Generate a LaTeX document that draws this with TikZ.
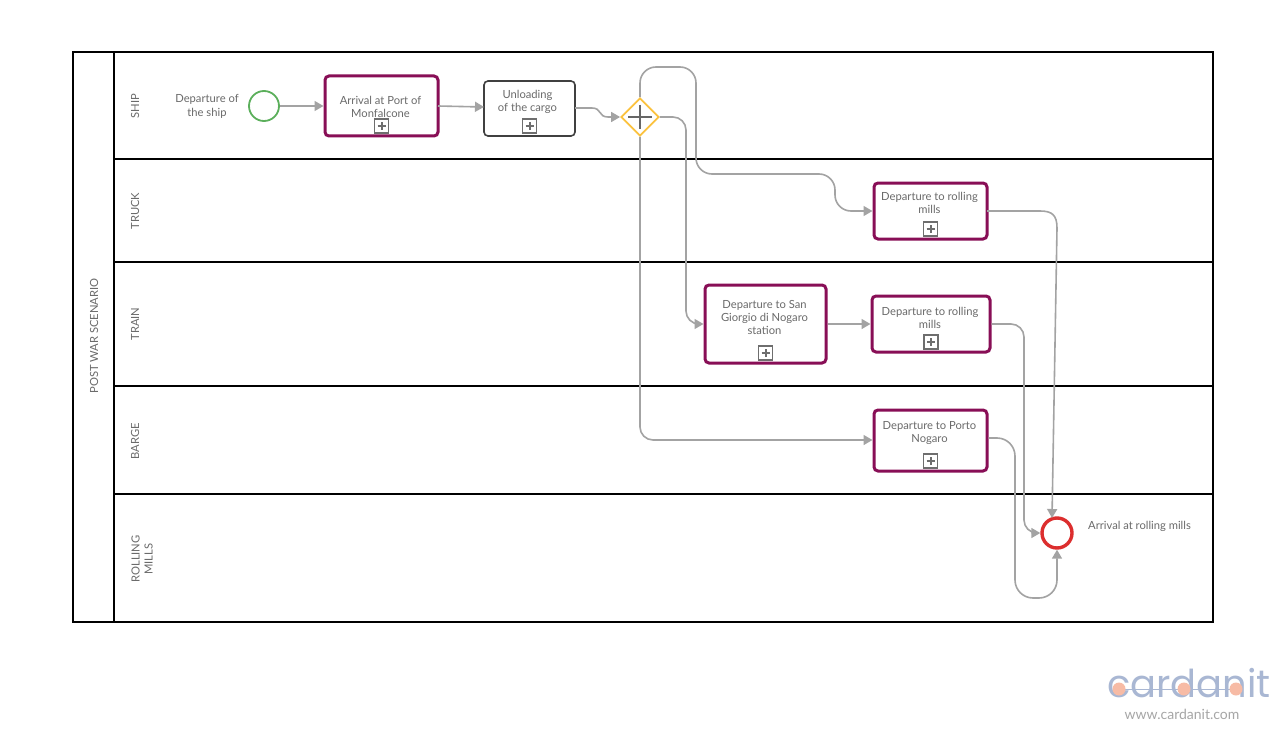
\documentclass[tikz,border=0pt]{standalone}
\usepackage{fontspec}
\setmainfont{Lato}
\newfontfamily\logofont{Poppins}
\usetikzlibrary{arrows.meta,shapes.geometric}
\definecolor{txt}{HTML}{6A6A6A}
\definecolor{flowc}{HTML}{A3A3A3}
\definecolor{purp}{HTML}{880E56}
\definecolor{logob}{HTML}{A9B7D3}
\definecolor{logoo}{HTML}{F7BBA5}
\definecolor{startc}{HTML}{5BAF5B}
\definecolor{endc}{HTML}{DC2E2E}
\definecolor{gwc}{HTML}{FBC23E}
\definecolor{markc}{HTML}{6E6E6E}
\tikzset{
 x=1pt,y=-1pt,
 lane/.style={draw=black,line width=1.6pt},
 flow/.style={draw=flowc,line width=1.6pt,rounded corners=13pt,-{Triangle[length=9pt,width=10pt]}},
 label/.style={font=\fontsize{11.2}{13}\selectfont,text=txt,align=center,inner sep=0pt},
 vlabel/.style={label,rotate=90},
 task/.style={draw=purp,line width=3pt,rounded corners=4pt,inner sep=0pt,fill=white,label},
 plain/.style={draw=black!75,line width=1.6pt,rounded corners=4pt,inner sep=0pt,fill=white,label},
 plusbox/.style={draw=markc,line width=1.8pt,minimum size=14pt,inner sep=0pt,fill=white},
 plusmark/.style={draw=markc,line width=2pt},
}
\newcommand{\taskbox}[9]{% name, style, x1,y1,x2,y2, text, texty, textx offset
 \node[#2,minimum width={#5-#3},minimum height={#6-#4}] (#1) at ({(#3+#5)/2},{(#4+#6)/2}) {};
 \node[label] (#1t) at ({(#3+#5)/2+#9},#8) {#7};
 \node[plusbox] (#1p) at ({(#3+#5)/2},{#6-10}) {};
 \draw[plusmark] ([xshift=-4pt]#1p.center) -- ([xshift=4pt]#1p.center);
 \draw[plusmark] ([yshift=-4pt]#1p.center) -- ([yshift=4pt]#1p.center);
}
\begin{document}
\begin{tikzpicture}
\useasboundingbox[fill=white] (0,0) rectangle (1285,733);
% pool
\node[draw=black,line width=1.8pt,minimum width=1140pt,minimum height=570pt,inner sep=0pt] (pool) at (643,337) {};
\draw[lane] (114,52) -- (114,622);
\coordinate (l1) at (114,159); \coordinate (r1) at (1213,159);
\coordinate (l2) at (114,262); \coordinate (r2) at (1213,262);
\coordinate (l3) at (114,386); \coordinate (r3) at (1213,386);
\coordinate (l4) at (114,494); \coordinate (r4) at (1213,494);
\draw[lane] (l1)--(r1); \draw[lane] (l2)--(r2); \draw[lane] (l3)--(r3); \draw[lane] (l4)--(r4);
% lane labels
\node[vlabel] (pl) at (94,336) {POST WAR SCENARIO};
\node[vlabel] (s) at (135,106) {SHIP};
\node[vlabel] (tr) at (135,211) {TRUCK};
\node[vlabel] (tn) at (135,324) {TRAIN};
\node[vlabel] (ba) at (135,441) {BARGE};
\node[vlabel] (ro) at (142,559) {ROLLING\\MILLS};
% events and gateway
\node[circle,draw=startc,line width=1.8pt,minimum size=30pt,inner sep=0pt,fill=white] (start) at (264,106) {};
\node[label,font=\fontsize{11.2}{14}\selectfont] (startl) at (207,106.5) {Departure of\\the ship};
\node[circle,draw=endc,line width=3.4pt,minimum size=30pt,inner sep=0pt,fill=white] (end) at (1057,533) {};
\node[label,anchor=west] (endl) at (1088,526) {Arrival at rolling mills};
\node[diamond,aspect=1,draw=gwc,line width=1.8pt,minimum size=38pt,inner sep=0pt,fill=white] (gw) at (640,117) {};
% tasks
\taskbox{a}{task}{325}{76}{438}{136}{Arrival at Port of\\Monfalcone}{106.5}{-1}
\taskbox{u}{plain}{484}{81}{575}{136}{Unloading\\of the cargo}{102}{-2}
\taskbox{t}{task}{874}{183}{987}{239}{Departure to rolling\\mills}{203}{-1}
\taskbox{n}{task}{705}{285}{826}{363}{Departure to San\\Giorgio di Nogaro\\station}{317.5}{-1}
\taskbox{d}{task}{872}{296}{990}{352}{Departure to rolling\\mills}{318}{-1}
\taskbox{b}{task}{874}{410}{987}{471}{Departure to Porto\\Nogaro}{433}{-1}
% flows
\draw[flow] (start.east) -- (a.east -| a.west);
\coordinate (aout) at (438,106);
\coordinate (uin) at (484,107);
\draw[flow] (aout) -- (uin);
\coordinate (uout) at (575,108);
\draw[flow,rounded corners=0pt] (uout) -- (592,108) .. controls (602,108) and (598,117) .. (608,117) -- (gw.west);
\draw[flow] (gw.east) -- (686,117) -- (686,324) -- (n.west|-686,324);
\draw[flow] (gw.south) -- (640,440) -- (b.west|-640,440);
\draw[flow,rounded corners=16pt] (gw.north) -- (640,67) -- (696,67) -- (696,174) -- (835,174) -- (835,211) -- (t.west);
\draw[flow] (n.east) -- (d.west|-n.east);
\coordinate (tout) at (987,211);
\coordinate (eint) at (1052,518);
\draw[flow,rounded corners=0pt] (tout) -- (1040,211) .. controls (1052,211) and (1057,215) .. (1057,228) -- (eint);
\draw[flow] (d.east) -- (1024,324) -- (1024,533) -- (end.west);
\draw[flow,rounded corners=18pt] (b.east|-0,438) -- (1015,438) -- (1015,598) -- (1057,598) -- (end.south);
% gateway plus
\draw[black!60,line width=1.6pt] (628,117)--(652,117) (640,105)--(640,129);
% logo
\draw[logob,line width=1pt] (1115,689) -- (1236,689);
\node[font=\logofont\fontsize{38.4}{38}\selectfont,text=logob,inner sep=0pt] (logo) at (1189,683) {cardanit};
\node[font=\fontsize{14}{14}\selectfont,text=black!35,inner sep=0pt] (www) at (1182,714) {www.cardanit.com};
\fill[logoo] (1119,689) circle (6.5pt) (1184,689) circle (6.5pt) (1236,689) circle (6.5pt);
\end{tikzpicture}
\end{document}
